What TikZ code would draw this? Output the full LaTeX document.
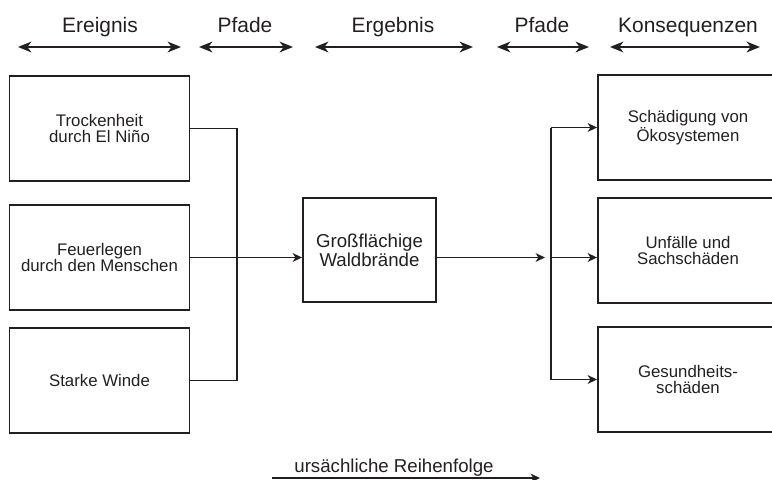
\documentclass[tikz,border=0pt]{standalone}
\usepackage{fontspec}
\setmainfont{Liberation Sans}
\usetikzlibrary{arrows.meta}

\definecolor{darkink}{HTML}{231F20}

\begin{document}
\begin{tikzpicture}[x=0.75pt, y=-0.75pt,
                box/.style={draw=darkink, line width=1.4pt, text=darkink, align=center,
                    minimum width=135pt, minimum height=78.5pt, inner sep=0pt,
                    font=\fontsize{12.6}{12.6}\selectfont},
                head/.style={text=darkink, anchor=base, inner sep=0pt,
                    font=\fontsize{15.7}{15.7}\selectfont},
                span/.style={draw=darkink, line width=1.5pt,
                    {Stealth[length=10pt,width=8pt,inset=3pt]}-{Stealth[length=10pt,width=8pt,inset=3pt]}},
                link/.style={draw=darkink, line width=1.4pt},
                flow/.style={link, -{Stealth[length=7pt,width=6.5pt,inset=2pt]}}]

                \useasboundingbox (0,0) rectangle (772,479);
                \clip (0,0) rectangle (772,479);

                \coordinate (ereignisL) at (18,47);
                \coordinate (ereignisR) at (181,47);
                \coordinate (pfadeAL) at (199,47);
                \coordinate (pfadeAR) at (293,47);
                \coordinate (ergebnisL) at (315,47);
                \coordinate (ergebnisR) at (473,47);
                \coordinate (pfadeBL) at (497,47);
                \coordinate (pfadeBR) at (589,47);
                \coordinate (folgenL) at (610,47);
                \coordinate (folgenR) at (760,47);

                \draw [span] (ereignisL) to (ereignisR);
                \draw [span] (pfadeAL) to (pfadeAR);
                \draw [span] (ergebnisL) to (ergebnisR);
                \draw [span] (pfadeBL) to (pfadeBR);
                \draw [span] (folgenL) to (folgenR);

                \node [head] (ereignis) at (100,32) {Ereignis};
                \node [head] (pfadeA) at (245,32) {Pfade};
                \node [head] (ergebnis) at (393,32) {Ergebnis};
                \node [head] (pfadeB) at (542,32) {Pfade};
                \node [head] (folgen) at (688,32) {Konsequenzen};

                \node [box] (trocken) at (99.5,128.5) {Trockenheit\\durch El Niño};
                \node [box] (feuer) at (99.5,257.5) {Feuerlegen\\durch den Menschen};
                \node [box] (wind) at (99.5,380.5) {Starke Winde};

                \node [box, minimum width=99.75pt, minimum height=78pt,
                    font=\fontsize{14}{14}\selectfont] (brand) at (369.5,250) {Großflächige\\Waldbrände};

                \node [box, minimum height=78.75pt] (oeko) at (688,127.5) {Schädigung von\\Ökosystemen};
                \node [box, minimum height=78.75pt] (unfall) at (688,250.5) {Unfälle und\\Sachschäden};
                \node [box, minimum height=78.75pt] (gesund) at (688,379.5) {Gesundheits-\\schäden};

                \coordinate (busL) at (237,0);
                \coordinate (busR) at (551,0);

                \draw [link] (trocken.east) -| (busL |- wind.east) to (wind.east);
                \draw [flow] (feuer.east) to (feuer.east -| brand.west);

                \draw [flow] (brand.east |- feuer.east) to ([xshift=-4.5pt]busR |- feuer.east);
                \draw [link] (busR |- oeko.west) to (busR |- gesund.west);
                \draw [flow] (busR |- oeko.west) to (oeko.west);
                \draw [flow] (busR |- feuer.east) to (unfall.west |- feuer.east);
                \draw [flow] (busR |- gesund.west) to (gesund.west);

                \coordinate (orderL) at (272,478);
                \coordinate (orderR) at (540,478);
                \draw [flow] (orderL) to (orderR);
                \node [head, font=\fontsize{14}{14}\selectfont] (order) at (394,472) {ursächliche Reihenfolge};
            \end{tikzpicture}
\end{document}
